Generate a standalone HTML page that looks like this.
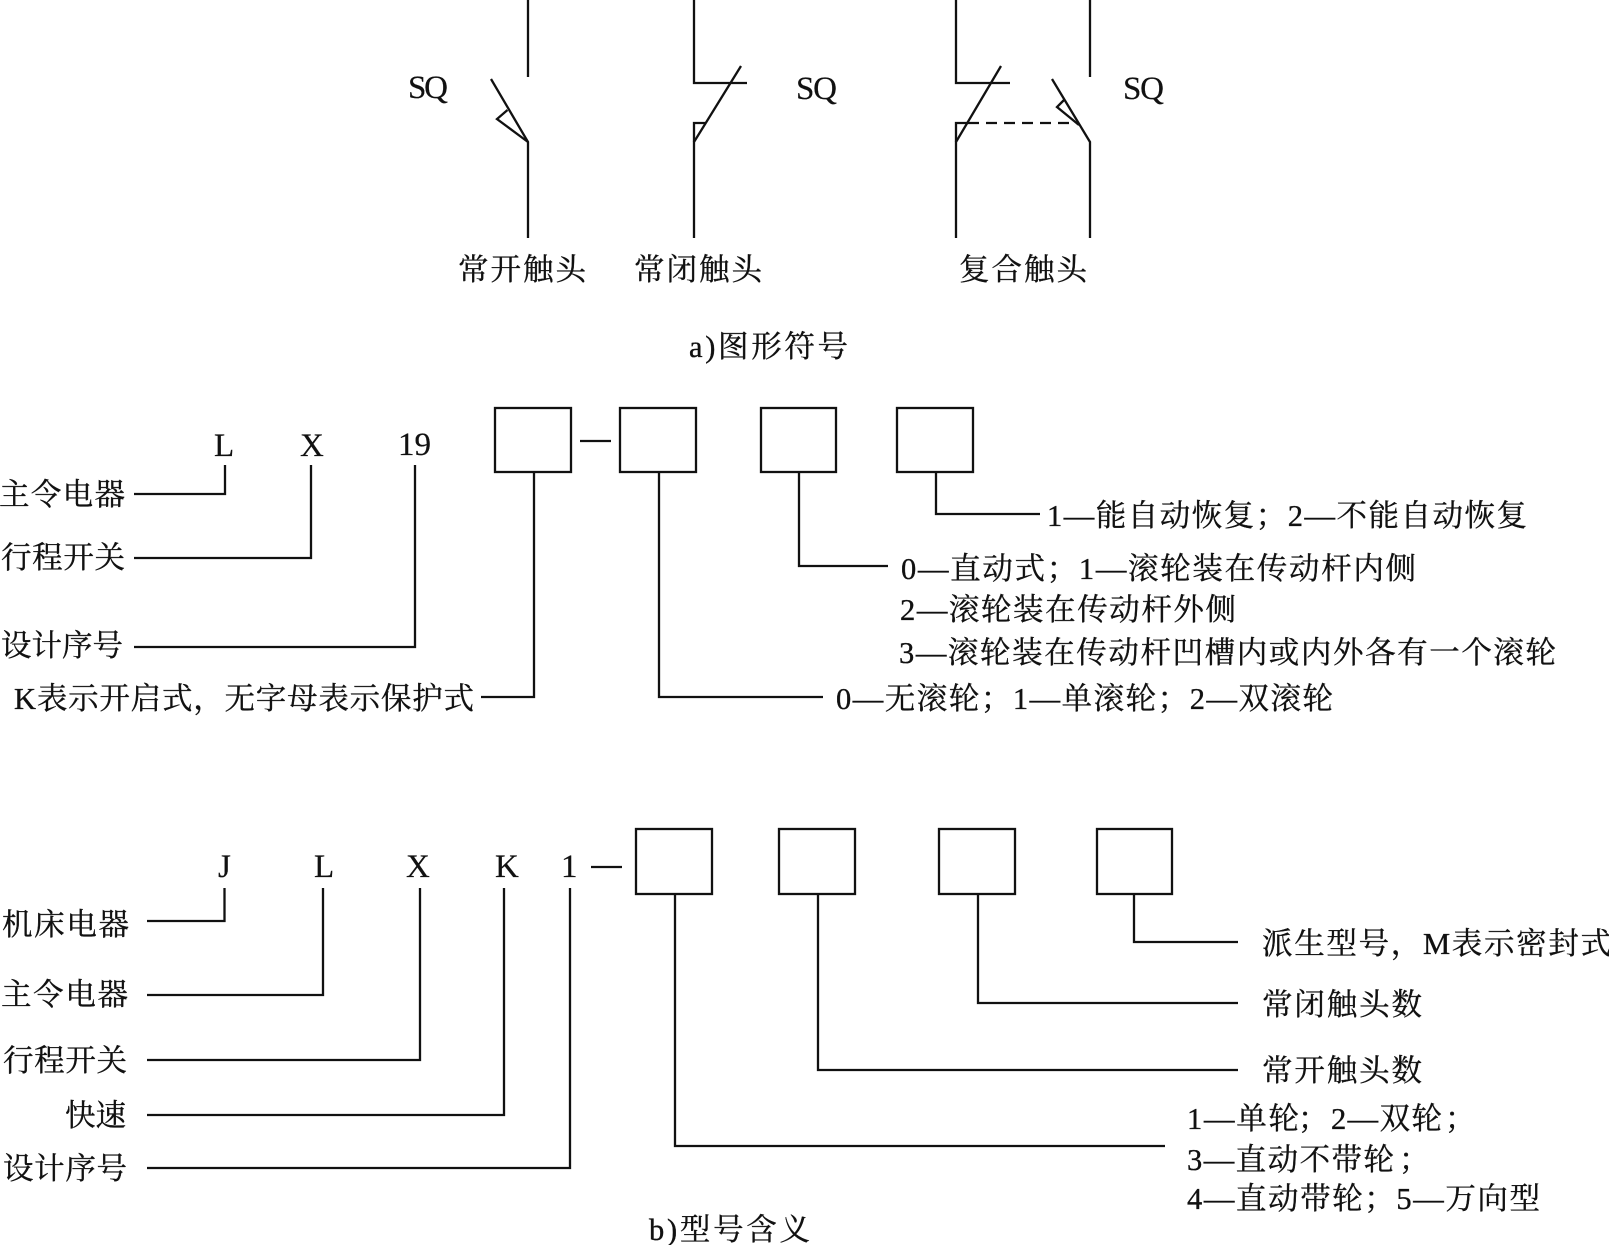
<!DOCTYPE html>
<html lang="zh-CN">
<head>
<meta charset="utf-8">
<title>行程开关</title>
<style>
html,body{margin:0;padding:0;background:#fff;}
svg{display:block;}
text{font-family:"Liberation Serif","Noto Serif CJK SC","Noto Sans CJK SC",serif;font-size:30.500px;fill:#111;stroke:#111;stroke-width:.35;}
text.e{font-size:33px;stroke-width:.2;}
.l{fill:none;stroke:#111;stroke-width:2.300;stroke-linejoin:miter;}
</style>
</head>
<body>
<svg xmlns="http://www.w3.org/2000/svg" width="1609" height="1245" viewBox="0 0 1609 1245">
<rect width="1609" height="1245" fill="#fff"/>

<!-- a) symbols -->
<g class="l">
<path d="M528 0V77"/>
<path d="M491 79L528 142V238"/>
<path d="M507.500 110L497 119L528 142"/>
<path d="M694 0V83H747"/>
<path d="M741 66L694 142V238"/>
<path d="M694 142V123H706"/>
<path d="M956 0V83H1010"/>
<path d="M1001 66L956 142V238"/>
<path d="M956 142V123H968"/>
<path d="M968 123H1079" stroke-dasharray="11 7"/>
<path d="M1090 0V77"/>
<path d="M1052 79L1090 142V238"/>
<path d="M1064 100L1057 107L1079 125"/>
</g>
<text class="e" x="408" y="98" textLength="40">SQ</text>
<text class="e" x="796" y="99" textLength="41">SQ</text>
<text class="e" x="1123" y="99" textLength="41">SQ</text>
<text x="458" y="280" textLength="128">常开触头</text>
<text x="634" y="280" textLength="128">常闭触头</text>
<text x="959" y="280" textLength="128">复合触头</text>
<text x="689" y="357" textLength="159">a)图形符号</text>

<!-- LX19 -->
<g class="l">
<rect x="495" y="408" width="76" height="64"/>
<rect x="620" y="408" width="76" height="64"/>
<rect x="761" y="408" width="75" height="64"/>
<rect x="897" y="408" width="76" height="64"/>
<path d="M580 441H611"/>
<path d="M134 494H225V465"/>
<path d="M134 558H311V465"/>
<path d="M134 647H415V465"/>
<path d="M481 697H534V472"/>
<path d="M659 472V697H823"/>
<path d="M799 472V566H888"/>
<path d="M936 472V514H1040"/>
</g>
<text class="e" x="214" y="456" textLength="20">L</text>
<text class="e" x="300" y="456" textLength="21">X</text>
<text class="e" x="398" y="455" textLength="33">19</text>
<text x="-1" y="505" textLength="126">主令电器</text>
<text x="1" y="568" textLength="124">行程开关</text>
<text x="1" y="656" textLength="122">设计序号</text>
<text x="14" y="709" textLength="460">K表示开启式，无字母表示保护式</text>
<text x="1047" y="526" textLength="480">1—能自动恢复；2—不能自动恢复</text>
<text x="901" y="579" textLength="515">0—直动式；1—滚轮装在传动杆内侧</text>
<text x="900" y="620" textLength="336">2—滚轮装在传动杆外侧</text>
<text x="899" y="663" textLength="657">3—滚轮装在传动杆凹槽内或内外各有一个滚轮</text>
<text x="836" y="709" textLength="497">0—无滚轮；1—单滚轮；2—双滚轮</text>

<!-- JLXK1 -->
<g class="l">
<rect x="636" y="829" width="76" height="65"/>
<rect x="779" y="829" width="76" height="65"/>
<rect x="939" y="829" width="76" height="65"/>
<rect x="1097" y="829" width="75" height="65"/>
<path d="M591 867H622"/>
<path d="M147 921H224.500V888"/>
<path d="M147 995H323V888"/>
<path d="M147 1060H420V888"/>
<path d="M147 1115H504V888"/>
<path d="M147 1168H570V888"/>
<path d="M675 894V1146H1165"/>
<path d="M818 894V1070H1238"/>
<path d="M978 894V1003H1238"/>
<path d="M1134 894V942H1238"/>
</g>
<text class="e" x="218" y="877" textLength="14">J</text>
<text class="e" x="314" y="877" textLength="18">L</text>
<text class="e" x="406" y="877" textLength="22">X</text>
<text class="e" x="495" y="877" textLength="21">K</text>
<text class="e" x="561" y="877" textLength="15">1</text>
<text x="2" y="935" textLength="127">机床电器</text>
<text x="1" y="1005" textLength="127">主令电器</text>
<text x="3" y="1071" textLength="124">行程开关</text>
<text x="65" y="1126" textLength="61">快速</text>
<text x="3" y="1179" textLength="124">设计序号</text>
<text x="1262" y="954" textLength="349">派生型号，M表示密封式</text>
<text x="1262" y="1015" textLength="160">常闭触头数</text>
<text x="1262" y="1081" textLength="160">常开触头数</text>
<text x="1187" y="1129" textLength="112">1—单轮</text>
<text x="1298" y="1129">；</text>
<text x="1331" y="1129" textLength="111">2—双轮</text>
<text x="1445" y="1129">；</text>
<text x="1187" y="1170" textLength="207">3—直动不带轮</text>
<text x="1399" y="1170">；</text>
<text x="1187" y="1209" textLength="353">4—直动带轮；5—万向型</text>
<text x="649" y="1240" textLength="161">b)型号含义</text>
</svg>
</body>
</html>
